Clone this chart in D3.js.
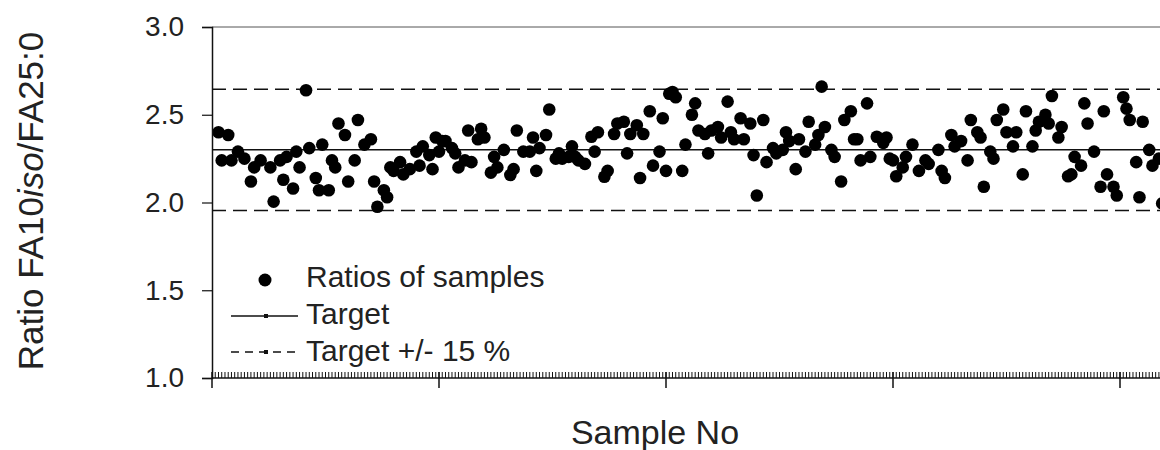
<!DOCTYPE html>
<html>
<head>
<meta charset="utf-8">
<script src="https://cdn.jsdelivr.net/npm/d3@7"></script>
<style>
body { margin: 0; background: #fff; }
text { font-family: "Liberation Sans", Arial, sans-serif; fill: #222; }
</style>
</head>
<body>
<script>
let width = 1160;
let height = 450;

// sample numbers and ratios
let sampleNo = [2,3,5,6,8,10,12,13,15,18,19,21,22,23,25,26,27,29,30,32,33,34,36,37,38,39,41,42,44,45,47,49,50,51,53,54,55,56,58,59,61,63,64,65,67,68,69,70,71,72,74,75,76,78,79,80,82,83,84,86,87,88,90,92,93,94,96,98,99,100,101,103,104,106,107,108,110,111,112,113,115,117,118,119,121,122,124,125,127,128,129,131,132,133,135,136,138,139,140,141,142,143,145,146,148,149,150,152,153,154,156,157,159,160,161,163,164,166,167,168,170,171,173,174,176,177,178,180,181,183,184,186,187,188,189,191,192,194,195,197,198,199,200,202,203,205,207,208,209,210,211,213,214,216,218,220,221,224,225,226,228,229,231,233,234,236,237,238,240,241,242,244,245,247,248,250,251,253,254,255,257,258,259,261,262,264,265,266,268,269,270,272,274,275,276,278,279,281,282,283,285,286,287,289,290,292,293];
let ratio = [2.40,2.24,2.385,2.24,2.29,2.25,2.12,2.20,2.24,2.20,2.005,2.24,2.13,2.26,2.08,2.29,2.20,2.64,2.31,2.14,2.07,2.33,2.07,2.24,2.20,2.45,2.385,2.12,2.24,2.47,2.33,2.36,2.12,1.976,2.07,2.03,2.20,2.18,2.23,2.16,2.19,2.29,2.21,2.32,2.27,2.19,2.37,2.29,2.35,2.35,2.31,2.28,2.20,2.24,2.41,2.23,2.36,2.42,2.37,2.17,2.26,2.20,2.30,2.157,2.19,2.41,2.29,2.29,2.37,2.18,2.31,2.385,2.53,2.25,2.28,2.25,2.26,2.32,2.26,2.24,2.22,2.375,2.29,2.40,2.147,2.18,2.39,2.45,2.46,2.28,2.39,2.44,2.14,2.39,2.52,2.21,2.29,2.48,2.18,2.62,2.63,2.60,2.18,2.33,2.50,2.565,2.41,2.39,2.28,2.41,2.43,2.37,2.575,2.40,2.36,2.48,2.36,2.45,2.27,2.04,2.47,2.23,2.31,2.28,2.30,2.40,2.35,2.19,2.36,2.29,2.46,2.33,2.385,2.66,2.43,2.30,2.26,2.12,2.47,2.52,2.36,2.36,2.24,2.565,2.26,2.375,2.34,2.37,2.25,2.24,2.15,2.20,2.26,2.33,2.18,2.24,2.22,2.30,2.18,2.14,2.385,2.32,2.35,2.24,2.47,2.40,2.37,2.09,2.29,2.25,2.47,2.53,2.40,2.32,2.40,2.16,2.52,2.32,2.41,2.46,2.50,2.45,2.607,2.37,2.43,2.15,2.16,2.26,2.21,2.565,2.45,2.29,2.09,2.52,2.16,2.09,2.04,2.60,2.535,2.47,2.23,2.03,2.46,2.30,2.21,2.25,1.995];

let target = 2.30;
let limits = [target * 0.85, target * 1.15];
let yTicks = [1.0, 1.5, 2.0, 2.5, 3.0];
let xMajor = [0, 70, 140, 210, 280];
let legendLabels = ["Ratios of samples", "Target", "Target +/- 15 %"];

let svg = d3.select("body").append("svg").attr("width", width).attr("height", height);

let x = d3.scaleLinear().domain([0, 70]).range([212, 439]);
let y = d3.scaleLinear().domain([1, 3]).range([378, 27]);
let xMax = x.invert(1160);

// top frame
svg.append("line")
  .attr("x1", 212).attr("x2", 1160)
  .attr("y1", y(3)).attr("y2", y(3))
  .attr("stroke", "#555").attr("stroke-width", 1);

// target and limit lines
svg.append("line")
  .attr("x1", x(0)).attr("x2", 1160)
  .attr("y1", y(target)).attr("y2", y(target))
  .attr("stroke", "#111").attr("stroke-width", 1.5);

svg.selectAll(".limit")
  .data(limits)
  .join("line")
  .attr("class", "limit")
  .attr("x1", x(0)).attr("x2", 1160)
  .attr("y1", d => y(d)).attr("y2", d => y(d))
  .attr("stroke", "#111").attr("stroke-width", 1.5)
  .attr("stroke-dasharray", "14,7");

// points
svg.append("g")
  .selectAll("circle")
  .data(sampleNo)
  .join("circle")
  .attr("cx", d => x(d))
  .attr("cy", (d, i) => y(ratio[i]))
  .attr("r", 6.3)
  .attr("fill", "#000");

// y axis
let yAxis = d3.axisLeft(y).tickValues(yTicks).tickFormat(d3.format(".1f")).tickSize(10).tickPadding(18);
let gy = svg.append("g").attr("transform", "translate(212,0)").call(yAxis);
gy.select(".domain").attr("stroke", "#111").attr("stroke-width", 1.5);
gy.selectAll(".tick line").attr("stroke", "#111").attr("stroke-width", 1.2);
gy.selectAll(".tick text")
  .attr("font-family", "Liberation Sans, Arial, sans-serif")
  .attr("font-size", 28).attr("fill", "#333");

// x axis: minor ticks every sample pointing inward, major ticks downward
let gx = svg.append("g").attr("transform", "translate(0," + y(1) + ")");
gx.append("line")
  .attr("x1", 212).attr("x2", 1160)
  .attr("stroke", "#111").attr("stroke-width", 1.5);
gx.selectAll(".minor")
  .data(d3.range(1, Math.floor(xMax) + 1))
  .join("line")
  .attr("class", "minor")
  .attr("x1", d => x(d)).attr("x2", d => x(d))
  .attr("y1", 0).attr("y2", -6)
  .attr("stroke", "#111").attr("stroke-width", 1);
gx.selectAll(".major")
  .data(xMajor)
  .join("line")
  .attr("class", "major")
  .attr("x1", d => x(d)).attr("x2", d => x(d))
  .attr("y1", -6).attr("y2", 10)
  .attr("stroke", "#111").attr("stroke-width", 1.5);

// axis titles
svg.append("text")
  .attr("x", 655).attr("y", 444)
  .attr("text-anchor", "middle")
  .attr("font-size", 34)
  .text("Sample No");

let yt = svg.append("text")
  .attr("transform", "translate(43,201) rotate(-90)")
  .attr("text-anchor", "middle")
  .attr("font-size", 35);
yt.append("tspan").text("Ratio FA10");
yt.append("tspan").attr("font-style", "italic").text("iso");
yt.append("tspan").text("/FA25:0");

// legend
let lg = svg.append("g");
lg.append("circle").attr("cx", 265).attr("cy", 280).attr("r", 6.5).attr("fill", "#000");
lg.append("line").attr("x1", 231).attr("x2", 298).attr("y1", 316).attr("y2", 316)
  .attr("stroke", "#111").attr("stroke-width", 1.5);
lg.append("rect").attr("x", 264).attr("y", 314).attr("width", 4).attr("height", 4).attr("fill", "#111");
lg.append("line").attr("x1", 231).attr("x2", 298).attr("y1", 352).attr("y2", 352)
  .attr("stroke", "#111").attr("stroke-width", 1.5).attr("stroke-dasharray", "8,6");
lg.append("rect").attr("x", 264).attr("y", 350).attr("width", 4).attr("height", 4).attr("fill", "#111");
lg.selectAll("text")
  .data(legendLabels)
  .join("text")
  .attr("x", 306)
  .attr("y", (d, i) => 287 + i * 37)
  .attr("font-size", 30)
  .text(d => d);
</script>
</body>
</html>
